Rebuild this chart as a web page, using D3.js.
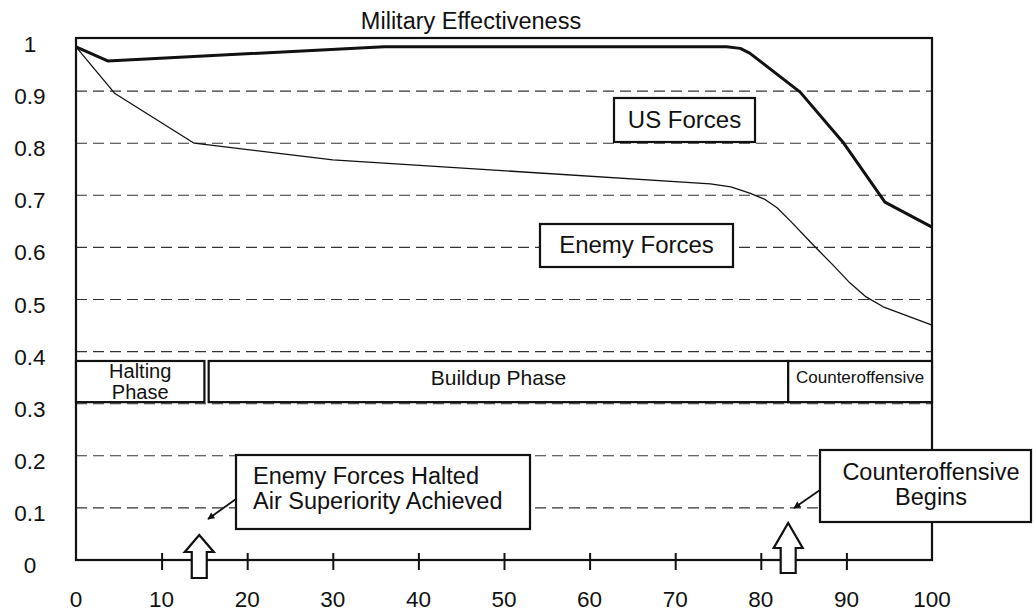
<!DOCTYPE html>
<html><head><meta charset="utf-8">
<script src="https://cdn.jsdelivr.net/npm/d3@7/dist/d3.min.js"></script>
<style>
body{margin:0;background:#fff}
text{font-family:"Liberation Sans",Arial,Helvetica,sans-serif;fill:#111}
</style>
</head><body>
<svg id="chart" width="1036" height="612"></svg>
<script>
// ---------- data ----------
const chartTitle = "Military Effectiveness";
const xTickValues = [0,10,20,30,40,50,60,70,80,90,100];
const xTickLabels = ["0","10","20","30","40","50","60","70","80","90","100"];
const yTickValues = [0,0.1,0.2,0.3,0.4,0.5,0.6,0.7,0.8,0.9,1];
const yTickLabels = ["0","0.1","0.2","0.3","0.4","0.5","0.6","0.7","0.8","0.9","1"];
const gridValues = [0.1,0.2,0.3,0.4,0.5,0.6,0.7,0.8,0.9];

const usDays   = [0,    3.7,  36,   76.0, 77.6, 78.7, 84.6, 89.6, 94.5, 100];
const usValues = [0.985,0.958,0.985,0.985,0.982,0.973,0.898,0.802,0.687,0.639];

const enemyDays   = [0,    4.5,  13.8, 30,   74.1, 76.5, 78.7, 80.5, 81.9, 83.5, 86.1, 88.5, 90.4, 92.3, 94.3, 100];
const enemyValues = [0.985,0.896,0.800,0.768,0.722,0.716,0.704,0.692,0.676,0.650,0.605,0.565,0.532,0.505,0.486,0.451];

const seriesNames = ["US Forces","Enemy Forces"];

const phaseNames  = [["Halting","Phase"],["Buildup Phase"],["Counteroffensive"]];
const phaseStart  = [0, 15.5, 83.2];
const phaseEnd    = [15, 83.2, 100];
const phaseTop = 0.382, phaseBottom = 0.303;

const eventDays   = [14.4, 83.2];
const eventLabels = [["Enemy Forces Halted","Air Superiority Achieved"],["Counteroffensive","Begins"]];

// ---------- layout ----------
const svg = d3.select("#chart");
const x = d3.scaleLinear().domain([0,100]).range([76,932]);
const y = d3.scaleLinear().domain([0,1]).range([560,39]);

svg.append("rect").attr("width",1036).attr("height",612).attr("fill","#fff");

// title
svg.append("text").attr("x",471).attr("y",29).attr("text-anchor","middle")
  .style("font-size","23.5px").text(chartTitle);

// gridlines
svg.append("g").selectAll("line").data(gridValues).join("line")
  .attr("x1",x(0)).attr("x2",x(100))
  .attr("y1",d=>y(d)).attr("y2",d=>y(d))
  .attr("stroke","#333").attr("stroke-width",1.1).attr("stroke-dasharray","11,6");

// frame
svg.append("rect").attr("x",x(0)).attr("y",y(1)-1).attr("width",x(100)-x(0)).attr("height",y(0)-y(1)+1)
  .attr("fill","none").attr("stroke","#111").attr("stroke-width",2.2);

// y labels
svg.append("g").selectAll("text").data(yTickValues).join("text")
  .attr("x",30).attr("y",d=>y(d)+13).attr("text-anchor","middle")
  .style("font-size","22.5px").text((d,i)=>yTickLabels[i]);

// x axis ticks
const xAxis = d3.axisBottom(x).tickValues(xTickValues.filter(v=>v>0&&v<100)).tickSize(0).tickFormat("");
const xg = svg.append("g").attr("transform",`translate(0,${y(0)})`).call(xAxis);
xg.select(".domain").remove();
xg.selectAll(".tick").append("line").attr("y1",-7).attr("y2",10).attr("stroke","#111").attr("stroke-width",2);
svg.append("g").selectAll("text").data(xTickValues).join("text")
  .attr("x",d=>x(d)).attr("y",607).attr("text-anchor","middle")
  .style("font-size","22.5px").text((d,i)=>xTickLabels[i]);

// phase boxes
const pg = svg.append("g");
phaseNames.forEach((lines,i)=>{
  const x0 = x(phaseStart[i]), x1 = x(phaseEnd[i]);
  pg.append("rect").attr("x",x0).attr("y",y(phaseTop)).attr("width",x1-x0).attr("height",y(phaseBottom)-y(phaseTop))
    .attr("fill","#fff").attr("stroke","#111").attr("stroke-width",2.2);
  const cx = (x0+x1)/2;
  if(lines.length===2){
    lines.forEach((t,j)=>pg.append("text").attr("x",cx).attr("y",378+j*20.5).attr("text-anchor","middle")
      .style("font-size","20px").text(t));
  } else {
    const fs = i===1 ? 21 : 17;
    pg.append("text").attr("x",cx).attr("y",i===1?385:383).attr("text-anchor","middle")
      .style("font-size",fs+"px").text(lines[0]);
  }
});

// series lines
const line = d3.line().x(d=>x(d[0])).y(d=>y(d[1]));
svg.append("path").datum(enemyDays.map((d,i)=>[d,enemyValues[i]]))
  .attr("d",line).attr("fill","none").attr("stroke","#111").attr("stroke-width",1.3).attr("stroke-linejoin","round");
svg.append("path").datum(usDays.map((d,i)=>[d,usValues[i]]))
  .attr("d",line).attr("fill","none").attr("stroke","#111").attr("stroke-width",3).attr("stroke-linejoin","round");

// series label boxes
function labelBox(x0,y0,x1,y1,txt,fs,baseline){
  svg.append("rect").attr("x",x0).attr("y",y0).attr("width",x1-x0).attr("height",y1-y0)
    .attr("fill","#fff").attr("stroke","#111").attr("stroke-width",2.2);
  svg.append("text").attr("x",(x0+x1)/2).attr("y",baseline).attr("text-anchor","middle")
    .style("font-size",fs+"px").text(txt);
}
labelBox(614,98,755,142,seriesNames[0],24,128);
labelBox(540,224,733,267,seriesNames[1],24,253);

// arrow marker
svg.append("defs").append("marker").attr("id","ah").attr("viewBox","0 0 10 10")
  .attr("refX",9).attr("refY",5).attr("markerWidth",9).attr("markerHeight",7)
  .attr("markerUnits","userSpaceOnUse").attr("orient","auto")
  .append("path").attr("d","M0,0 L10,5 L0,10 Z").attr("fill","#111");

// callouts
// event 1
svg.append("rect").attr("x",236).attr("y",455).attr("width",294).attr("height",74)
  .attr("fill","#fff").attr("stroke","#111").attr("stroke-width",2.2);
eventLabels[0].forEach((t,j)=>svg.append("text").attr("x",253).attr("y",484+j*24.5)
  .style("font-size","23.5px").text(t));
svg.append("line").attr("x1",236).attr("y1",499).attr("x2",208).attr("y2",519)
  .attr("stroke","#111").attr("stroke-width",1.8).attr("marker-end","url(#ah)");
// event 2
svg.append("rect").attr("x",820).attr("y",450).attr("width",211).attr("height",72)
  .attr("fill","#fff").attr("stroke","#111").attr("stroke-width",2.2);
eventLabels[1].forEach((t,j)=>svg.append("text").attr("x",931).attr("y",480+j*25)
  .attr("text-anchor","middle").style("font-size","23.5px").text(t));
svg.append("line").attr("x1",820).attr("y1",490).attr("x2",794).attr("y2",508)
  .attr("stroke","#111").attr("stroke-width",1.8).attr("marker-end","url(#ah)");

// block arrows
const tips = [535, 523], bottoms = [578, 573], bases = [552, 548];
eventDays.forEach((d,i)=>{
  const cx = x(d), hw = 14.5, sw = 7.5;
  const pts = [[cx,tips[i]],[cx+hw,bases[i]],[cx+sw,bases[i]],[cx+sw,bottoms[i]],
               [cx-sw,bottoms[i]],[cx-sw,bases[i]],[cx-hw,bases[i]]];
  svg.append("polygon").attr("points",pts.map(p=>p.join(",")).join(" "))
    .attr("fill","#fff").attr("stroke","#111").attr("stroke-width",2.2).attr("stroke-linejoin","miter");
});
</script>
</body></html>
